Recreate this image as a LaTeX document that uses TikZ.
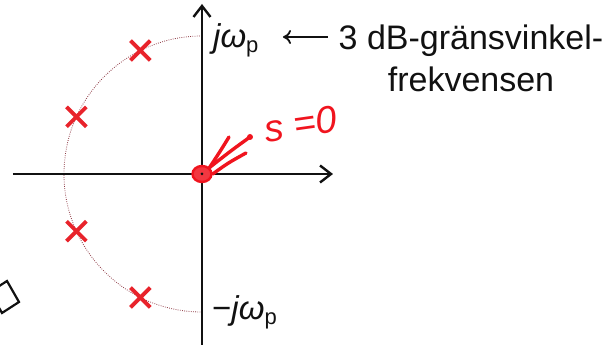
\documentclass[tikz,border=0pt]{standalone}
\usepackage{fontspec}
\setmainfont{Liberation Sans}
\usetikzlibrary{arrows.meta,shapes.misc,shapes.geometric,positioning}
\definecolor{polered}{HTML}{E8232B}
\definecolor{inkred}{HTML}{F0141E}
\definecolor{arcred}{HTML}{8E3A44}
\definecolor{txt}{HTML}{111111}

\begin{document}
\begin{tikzpicture}[x=1pt, y=1pt,
  axis/.style={line width=2.4pt, color=txt, -{Straight Barb[length=11pt, width=17pt]}},
  pole/.style={cross out, draw=polered, line width=3.8pt, minimum size=16pt, inner sep=0pt},
  wcircle/.style={color=arcred, line width=0.8pt, dash pattern=on 0.8pt off 1.4pt},
  lbl/.style={font=\fontsize{33}{38}\selectfont, text=txt, inner sep=0pt},
  desc/.style={font=\fontsize{34}{42}\selectfont, text=txt, align=center, inner sep=0pt},
  ink/.style={color=inkred, line width=3.4pt, line cap=round},
]
\useasboundingbox (-202,-171) rectangle (412,174);
\clip (-202,-171) rectangle (412,174);

\coordinate (o) at (0,0);
\coordinate (xl) at (-189,0);
\coordinate (xr) at (131,0);
\coordinate (yb) at (0,-172);
\coordinate (yt) at (0,170);

% 3 dB circle
\draw[wcircle] (0,138) arc (90:270:138);

% axes
\draw[axis] (xl) -- (xr);
\draw[axis] (yb) -- (yt);

% poles
\node[pole] (p1) at (116.5:138) {};
\node[pole] (p2) at (155.5:138) {};
\node[pole] (p3) at (204.5:138) {};
\node[pole] (p4) at (243.5:138) {};

% labels
\node[lbl, anchor=base west] (jwp) at (11,126) {\textit{jω}\raisebox{-5pt}{\fontsize{22}{22}\selectfont p}};
\node[lbl, anchor=base west] (mjwp) at (10,-146) {−\textit{jω}\raisebox{-5pt}{\fontsize{22}{22}\selectfont p}};
\node[desc, anchor=base] (desc) at (269,82) {3 dB-gränsvinkel-\\frekvensen};

\coordinate (arrtail) at (126,137);
\coordinate (arrtip) at (81,137);
\draw[-{To[length=8pt,width=14pt]}, line width=1.8pt, color=txt] (arrtail) -- (arrtip);

% hand-written note
\node[ellipse, draw=inkred, fill=inkred!85, line width=2.4pt, minimum width=19pt, minimum height=16pt, inner sep=0pt] (blob) at (o) {};
\fill[txt] (o) circle (1.5pt);
\coordinate (ka) at (27,37);
\coordinate (kb) at (48,37);
\coordinate (kc) at (44,21);
\draw[ink] (kb) .. controls (30,24) .. (blob.north east);
\fill[inkred] (kb) circle (3pt);
\draw[ink] (ka) .. controls (19,24) .. (blob.north east);
\draw[ink] (kc) .. controls (26,11) .. (blob.east);
\node[font=\fontsize{38}{38}\selectfont\itshape, text=inkred, rotate=8, inner sep=0pt] (szero) at (99,50) {s =0};

% cut-off box
\draw[line width=2.2pt, color=txt] (-195,-107) -- (-183,-128) -- (-200,-139) -- (-212,-118) -- cycle;

\end{tikzpicture}
\end{document}
